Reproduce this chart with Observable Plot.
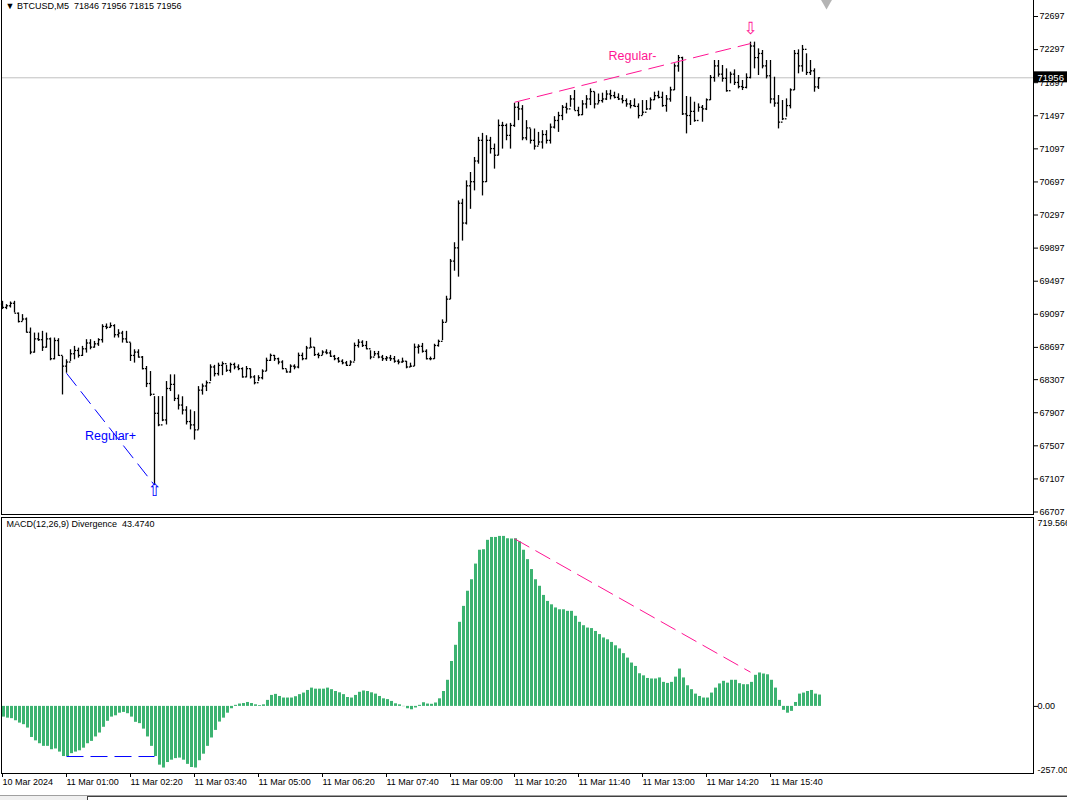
<!DOCTYPE html>
<html>
<head>
<meta charset="utf-8">
<script src="https://cdn.jsdelivr.net/npm/d3@7"></script>
<script src="https://cdn.jsdelivr.net/npm/@observablehq/plot@0.6"></script>
<style>
  html, body { margin: 0; padding: 0; background: #fff; }
  #chart { position: relative; width: 1067px; height: 800px; overflow: hidden; }
  #chart svg { display: block; }
  .tabs { position: absolute; top: 795px; left: 0; width: 1067px; height: 5px; background: #f0f0f0; border-top: 1px solid #a0a0a0; }
  .tab { position: absolute; left: 87px; top: 0; right: 0; height: 5px; background: #fff; border-left: 1px solid #404040; border-top: 1px solid #404040; }
</style>
</head>
<body>
<div id="chart"><div id="price"></div><div id="macd"></div><div class="tabs"><div class="tab"></div></div></div>
<script>
/* BTCUSD M5, 10 Mar 23:40 -> 11 Mar 16:40 (205 bars) */
const symbol = "BTCUSD,M5"
const firstOpen = 69220

const highs = [
  69254, 69214, 69246, 69254, 69113, 69093, 69052, 68931, 68870, 68870,
  68891, 68870, 68810, 68810, 68802, 68587, 68547, 68668, 68709, 68688,
  68709, 68790, 68790, 68769, 68802, 68971, 68980, 68992, 68971, 68911,
  68891, 68891, 68749, 68668, 68668, 68587, 68466, 68405, 68102, 68102,
  68102, 68284, 68365, 68365, 68122, 68100, 67980, 67940, 67920, 68223,
  68254, 68290, 68486, 68480, 68506, 68520, 68480, 68506, 68506, 68486,
  68450, 68466, 68436, 68355, 68355, 68426, 68567, 68616, 68600, 68567,
  68535, 68426, 68486, 68486, 68628, 68628, 68709, 68810, 68696, 68628,
  68656, 68668, 68656, 68600, 68575, 68547, 68527, 68535, 68749, 68790,
  68777, 68769, 68656, 68648, 68648, 68600, 68587, 68600, 68587, 68547,
  68567, 68527, 68506, 68737, 68729, 68745, 68668, 68580, 68735, 68785,
  69030, 69315, 69760, 69962, 70468, 70488, 70710, 70811, 70993, 71236,
  71284, 71256, 71236, 71155, 71446, 71418, 71397, 71405, 71648, 71660,
  71620, 71438, 71337, 71337, 71296, 71317, 71317, 71397, 71486, 71539,
  71620, 71648, 71741, 71802, 71600, 71680, 71741, 71822, 71782, 71760,
  71770, 71800, 71805, 71782, 71762, 71742, 71701, 71681, 71701, 71641,
  71681, 71681, 71713, 71782, 71794, 71782, 71742, 71842, 72125, 72226,
  72205, 71730, 71721, 71661, 71641, 71621, 71701, 71984, 72165, 72165,
  72105, 72064, 72024, 72052, 71984, 71923, 72004, 72387, 72387, 72306,
  72286, 72165, 72165, 71963, 71742, 71681, 71701, 71822, 72286, 72294,
  72347, 72246, 72165, 72064, 71956
]
const lows = [
  69154, 69153, 69173, 69113, 68992, 69012, 68870, 68608, 68628, 68769,
  68648, 68688, 68535, 68547, 68587, 68122, 68385, 68527, 68547, 68567,
  68587, 68628, 68668, 68688, 68709, 68749, 68911, 68931, 68810, 68810,
  68749, 68749, 68527, 68507, 68567, 68425, 68211, 68102, 67031, 67738,
  67799, 67759, 68163, 68042, 67940, 67880, 67759, 67700, 67576, 67698,
  68120, 68163, 68284, 68340, 68350, 68355, 68395, 68385, 68426, 68415,
  68325, 68330, 68315, 68244, 68284, 68304, 68405, 68527, 68527, 68486,
  68426, 68385, 68385, 68426, 68438, 68535, 68547, 68688, 68587, 68559,
  68600, 68608, 68575, 68535, 68506, 68486, 68466, 68474, 68527, 68688,
  68696, 68668, 68547, 68587, 68559, 68527, 68527, 68527, 68506, 68486,
  68506, 68438, 68454, 68466, 68616, 68628, 68545, 68535, 68552, 68700,
  68778, 69000, 69275, 69618, 69546, 69982, 70177, 70366, 70589, 70912,
  70528, 70690, 71034, 70852, 71013, 71094, 71195, 71094, 71357, 71438,
  71195, 71195, 71155, 71082, 71135, 71094, 71155, 71155, 71337, 71296,
  71438, 71519, 71600, 71559, 71486, 71499, 71580, 71620, 71580, 71640,
  71650, 71681, 71689, 71701, 71681, 71641, 71600, 71580, 71600, 71459,
  71500, 71560, 71568, 71681, 71701, 71600, 71540, 71661, 71802, 72024,
  71500, 71278, 71379, 71419, 71540, 71419, 71560, 71681, 71903, 71963,
  71903, 71782, 71883, 71863, 71822, 71802, 71822, 71943, 72064, 71984,
  72064, 71943, 71641, 71600, 71338, 71439, 71480, 71580, 71802, 72004,
  72024, 71984, 71984, 71782, 71815
]
const closes = [
  69180, 69200, 69230, 69110, 69010, 69040, 68880, 68640, 68800, 68790,
  68700, 68800, 68560, 68780, 68600, 68470, 68520, 68620, 68660, 68600,
  68680, 68750, 68700, 68740, 68790, 68950, 68940, 68960, 68850, 68870,
  68800, 68760, 68600, 68640, 68580, 68440, 68260, 68130, 67900, 67760,
  67820, 68200, 68250, 68080, 68000, 67940, 67800, 67760, 67700, 68180,
  68230, 68270, 68460, 68380, 68480, 68500, 68420, 68490, 68460, 68440,
  68340, 68440, 68340, 68270, 68330, 68410, 68540, 68600, 68560, 68520,
  68440, 68400, 68470, 68460, 68600, 68560, 68690, 68700, 68610, 68600,
  68640, 68630, 68590, 68560, 68530, 68510, 68480, 68520, 68720, 68760,
  68720, 68680, 68580, 68620, 68580, 68560, 68570, 68560, 68530, 68520,
  68530, 68460, 68470, 68700, 68710, 68650, 68560, 68560, 68720, 68770,
  69000, 69280, 69740, 69900, 70440, 70200, 70650, 70700, 70950, 71200,
  70700, 71200, 71100, 71020, 71380, 71380, 71260, 71380, 71600, 71580,
  71230, 71350, 71200, 71130, 71180, 71270, 71200, 71360, 71440, 71500,
  71600, 71580, 71700, 71560, 71510, 71640, 71700, 71790, 71640, 71680,
  71700, 71760, 71740, 71720, 71700, 71680, 71640, 71620, 71610, 71500,
  71540, 71580, 71690, 71740, 71720, 71620, 71700, 71810, 72100, 72200,
  71520, 71500, 71550, 71440, 71600, 71580, 71690, 71960, 72100, 72000,
  71950, 71800, 72000, 71900, 71850, 71840, 71960, 72340, 72200, 72250,
  72100, 71980, 71700, 71650, 71420, 71460, 71620, 71810, 72250, 72100,
  72300, 72020, 72040, 71846, 71956
]

// MACD(12,26,9) histogram
const macd = [
  -41, -45, -47, -55, -64, -70, -83, -119, -132, -143,
  -153, -153, -166, -163, -175, -192, -192, -181, -175, -170,
  -160, -143, -134, -117, -102, -80, -57, -41, -36, -26,
  -23, -28, -41, -61, -66, -87, -117, -153, -192, -225,
  -236, -215, -206, -200, -198, -206, -222, -234, -236, -208,
  -183, -153, -121, -92, -60, -45, -26, -9, 4, 9,
  11, 15, 11, 6, 3, 6, 23, 42, 46, 38,
  32, 32, 32, 37, 45, 51, 61, 70, 66, 66,
  66, 70, 64, 57, 52, 45, 34, 32, 42, 54,
  59, 57, 52, 47, 38, 29, 26, 19, 10, 6,
  -1, -9, -13, -6, 4, 14, 9, 8, 13, 29,
  57, 100, 172, 234, 322, 383, 441, 485, 545, 598,
  600, 636, 647, 647, 651, 651, 642, 641, 642, 630,
  598, 562, 524, 485, 460, 425, 402, 389, 377, 370,
  370, 364, 364, 345, 322, 309, 300, 298, 287, 275,
  262, 255, 245, 232, 220, 202, 185, 166, 153, 125,
  117, 107, 105, 105, 109, 92, 88, 92, 112, 143,
  109, 79, 64, 47, 38, 32, 32, 51, 70, 86,
  96, 89, 100, 100, 87, 83, 83, 92, 119, 128,
  124, 121, 100, 70, 23, -15, -26, -19, 15, 47,
  51, 57, 61, 47, 43.474
]

const priceTicks = [72697, 72297, 71897, 71497, 71097, 70697, 70297, 69897, 69497, 69097, 68697, 68307, 67907, 67507, 67107, 66707]
const macdRange = [-257, 719.566]
const timeLabels = [
  "10 Mar 2024", "11 Mar 01:00", "11 Mar 02:20", "11 Mar 03:40", "11 Mar 05:00",
  "11 Mar 06:20", "11 Mar 07:40", "11 Mar 09:00", "11 Mar 10:20", "11 Mar 11:40",
  "11 Mar 13:00", "11 Mar 14:20", "11 Mar 15:40"
]
const timeTickBars = [0, 16, 32, 48, 64, 80, 96, 112, 128, 144, 160, 176, 192]

// divergences: bar from, bar to, price from/to, macd from/to
const divStartBar = [16, 128]
const divEndBar = [38, 187]
const divPriceStart = [68385, 71660]
const divPriceEnd = [67031, 72370]
const divMacdStart = [-192, 642]
const divMacdEnd = [-192, 131]
const divNames = ["Regular+", "Regular-"]

const BLUE = "#0000ff"
const PINK = "#ff1493"
const divColors = [BLUE, PINK]
const FONT = "Liberation Sans, Arial, sans-serif"

const bars = highs.map((h, i) => ({
  i,
  open: i === 0 ? firstOpen : closes[i - 1],
  high: h,
  low: lows[i],
  close: closes[i]
}))
const hist = macd.map((v, i) => ({i, v}))
const divs = divNames.map((name, k) => ({
  name,
  color: divColors[k],
  x1: divStartBar[k], x2: divEndBar[k],
  p1: divPriceStart[k], p2: divPriceEnd[k],
  m1: divMacdStart[k], m2: divMacdEnd[k]
}))
const last = bars[bars.length - 1]
const nb = "\u00a0"
const header = `▼ ${symbol}${nb}${nb}${last.open} ${last.high} ${last.low} ${last.close}`
const xDomain = [0, bars.length - 1]
const xRange = [2, 2 + 4 * (bars.length - 1)]

const priceChart = Plot.plot({
  width: 1067,
  height: 516,
  marginLeft: 1,
  marginRight: 34,
  marginTop: -2,
  marginBottom: 2,
  style: {fontFamily: FONT, fontSize: "9px", background: "white", color: "black"},
  x: {type: "linear", domain: xDomain, range: xRange, axis: null, label: null},
  y: {domain: [66707, 72697], range: [511.5, 16], label: null},
  marks: [
    Plot.ruleY([last.close], {stroke: "#c0c0c0"}),
    Plot.ruleX(bars, {x: "i", y1: "low", y2: "high", stroke: "black", strokeWidth: 1.3}),
    Plot.link(bars, {x1: d => d.i - 0.4, x2: "i", y1: "open", y2: "open", stroke: "black", strokeWidth: 1.3}),
    Plot.link(bars, {x1: "i", x2: d => d.i + 0.4, y1: "close", y2: "close", stroke: "black", strokeWidth: 1.3}),
    Plot.link(divs, {x1: "x1", x2: "x2", y1: "p1", y2: "p2", stroke: "color", strokeDasharray: "16,7"}),
    Plot.text([divs[0]], {
      x: d => (d.x1 + d.x2) / 2, y: d => (d.p1 + d.p2) / 2, text: "name",
      fill: BLUE, fontSize: 12.5, dy: 7
    }),
    Plot.text([divs[1]], {
      x: d => (d.x1 + d.x2) / 2, y: d => (d.p1 + d.p2) / 2, text: "name",
      fill: PINK, fontSize: 12.5, dy: -17
    }),
    Plot.text([divs[0]], {
      x: "x2", y: d => bars[d.x2].low, text: () => "⇧",
      fill: BLUE, fontSize: 17, fontFamily: "DejaVu Sans", lineAnchor: "top", dy: -1
    }),
    Plot.text([divs[1]], {
      x: "x2", y: d => bars[d.x2].high, text: () => "⇩",
      fill: PINK, fontSize: 17, fontFamily: "DejaVu Sans", lineAnchor: "bottom", dy: -8
    }),
    Plot.dot([bars.length + 1], {x: d => d, frameAnchor: "top", symbol: "diamond", r: 6, fill: "#b4b4b4", dy: 1}),
    Plot.text([header], {frameAnchor: "top-left", dx: 4, dy: 4, lineAnchor: "top", textAnchor: "start", fontSize: 9}),
    Plot.frame({stroke: "black"}),
    Plot.axisY(priceTicks, {
      anchor: "right", tickSize: 4, tickPadding: 2, fontSize: 9,
      tickFormat: d => String(d), label: null
    }),
    Plot.text([last.close], {
      y: d => d, text: d => String(d), frameAnchor: "right", dx: 4, textAnchor: "start",
      fill: "white", fontSize: 9.5
    })
  ]
})

const macdChart = Plot.plot({
  width: 1067,
  height: 279,
  marginLeft: 1,
  marginRight: 34,
  marginTop: 1,
  marginBottom: 22,
  style: {fontFamily: FONT, fontSize: "9px", background: "white", color: "black"},
  x: {type: "linear", domain: xDomain, range: xRange, label: null},
  y: {domain: macdRange, range: [257, 2], label: null},
  marks: [
    Plot.rect(hist, {x1: "i", x2: d => d.i + 0.75, y1: 0, y2: "v", fill: "#3cb371"}),
    Plot.link(divs, {x1: "x1", x2: "x2", y1: "m1", y2: "m2", stroke: "color", strokeDasharray: "17,7"}),
    Plot.text([`MACD(12,26,9) Divergence${nb}${nb}${macd[macd.length - 1].toFixed(4)}`], {
      frameAnchor: "top-left", dx: 5, dy: 3, lineAnchor: "top", textAnchor: "start", fontSize: 9
    }),
    Plot.frame({stroke: "black"}),
    Plot.axisX(timeTickBars, {
      anchor: "bottom", tickSize: 4, tickPadding: 1, textAnchor: "start", fontSize: 9,
      tickFormat: d => timeLabels[timeTickBars.indexOf(d)], label: null
    }),
    Plot.axisY([0], {anchor: "right", tickSize: 4, tickPadding: 0, fontSize: 9, tickFormat: d => d.toFixed(2), label: null}),
    Plot.text([macdRange[1]], {y: d => d, frameAnchor: "right", dx: 4, textAnchor: "start", lineAnchor: "top", dy: 1, fontSize: 9, text: d => d.toFixed(3)}),
    Plot.text([macdRange[0]], {y: d => d, frameAnchor: "right", dx: 4, textAnchor: "start", lineAnchor: "bottom", dy: -1, fontSize: 9, text: d => d.toFixed(2)})
  ]
})

d3.select('#price').append(() => priceChart)
d3.select('#macd').append(() => macdChart)

/* black box behind the last price */
const tagGroup = d3.select(priceChart).selectAll('g[fill="white"]').nodes().pop()
if (tagGroup) {
  const bb = tagGroup.getBBox()
  d3.select(priceChart).insert('rect', () => tagGroup)
    .attr('x', 1034).attr('y', bb.y)
    .attr('width', 33).attr('height', bb.height)
    .attr('fill', 'black')
}
</script>
</body>
</html>
